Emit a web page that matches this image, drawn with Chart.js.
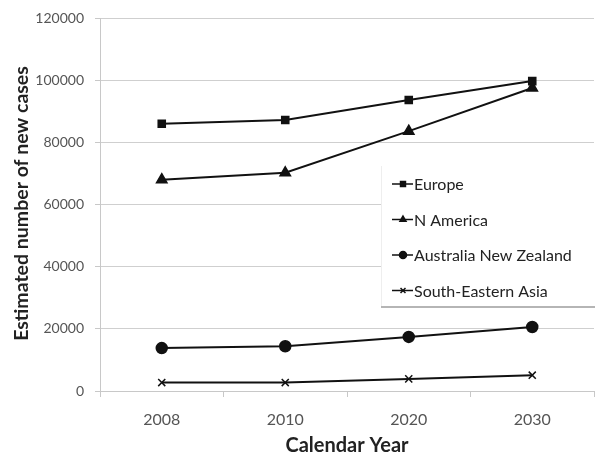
<!DOCTYPE html>
<html>
<head>
<meta charset="utf-8">
<script src="https://cdn.jsdelivr.net/npm/chart.js@4.4.1/dist/chart.umd.min.js"></script>
<style>
  html, body { margin: 0; padding: 0; background: #fff; overflow: hidden; }
  #wrap { width: 595px; height: 454px; position: relative; }
  canvas { display: block; }
</style>
</head>
<body>
<div id="wrap"><canvas id="chart"></canvas></div>
<script>
// ===== data =====
const years = ['2008', '2010', '2020', '2030'];
const europe = [86000, 87200, 93600, 99700];
const nAmerica = [68000, 70200, 83600, 97500];
const ausNz = [13800, 14400, 17400, 20600];
const seAsia = [2700, 2700, 3900, 5100];
const seriesNames = ['Europe', 'N America', 'Australia New Zealand', 'South-Eastern Asia'];
const pointStyles = ['rect', 'triangle', 'circle', 'crossRot'];
const yTicks = [0, 20000, 40000, 60000, 80000, 100000, 120000];
const yTitle = 'Estimated number of new cases';

const FONT = 'Lato, "Open Sans", sans-serif';

// y axis title, placed by hand so it sits centred on the plot
const yTitlePlugin = {
    id: 'yTitle',
    afterDraw(chart) {
        const ctx = chart.ctx;
        const area = chart.chartArea;
        ctx.save();
        ctx.translate(22, (area.top + area.bottom) / 2 - 1);
        ctx.rotate(-Math.PI / 2);
        ctx.fillStyle = '#222';
        ctx.font = 'bold 19.5px ' + FONT;
        ctx.textAlign = 'center';
        ctx.textBaseline = 'middle';
        ctx.fillText(yTitle, 0, 0);
        ctx.restore();
    }
};

// legend box drawn on top of the plot (like the original)
const boxLegend = {
    id: 'boxLegend',
    afterDatasetsDraw(chart) {
        const ctx = chart.ctx;
        const x = 381, y = 166, w = 214, h = 141;
        ctx.save();
        ctx.fillStyle = '#fff';
        ctx.fillRect(x, y, w, h);
        ctx.strokeStyle = '#eee';
        ctx.lineWidth = 1;
        ctx.beginPath();
        ctx.moveTo(x + 0.5, y);
        ctx.lineTo(x + 0.5, y + h);
        ctx.stroke();
        ctx.strokeStyle = '#b5b5b5';
        ctx.lineWidth = 2;
        ctx.beginPath();
        ctx.moveTo(x, y + h);
        ctx.lineTo(x + w, y + h);
        ctx.stroke();

        chart.data.datasets.forEach((ds, i) => {
            const cy = 184 + i * 35.5;
            ctx.strokeStyle = '#111';
            ctx.lineWidth = 1.5;
            ctx.beginPath();
            ctx.moveTo(392, cy);
            ctx.lineTo(413, cy);
            ctx.stroke();
            Chart.helpers.drawPoint(ctx, {
                pointStyle: ds.pointStyle, radius: 3.5, rotation: 0, borderWidth: 1.5
            }, 403, cy);
            ctx.fillStyle = '#111';
            ctx.fill();
            ctx.fillStyle = '#222';
            ctx.font = '16px ' + FONT;
            ctx.textBaseline = 'middle';
            ctx.textAlign = 'left';
            ctx.fillText(ds.label, 414, cy + 1);
        });
        ctx.restore();
    }
};

function makeSet(label, data, style, r) {
    return {
        label: label,
        data: data,
        borderColor: '#111',
        backgroundColor: '#111',
        borderWidth: 2,
        pointStyle: style,
        pointRadius: r,
        pointBorderWidth: 1.5,
        pointBorderColor: '#111',
        pointBackgroundColor: '#111',
        tension: 0,
        fill: false,
        clip: false
    };
}

new Chart(document.getElementById('chart'), {
    type: 'line',
    data: {
        labels: years,
        datasets: [
            makeSet(seriesNames[0], europe, pointStyles[0], 5),
            makeSet(seriesNames[1], nAmerica, pointStyles[1], 6),
            makeSet(seriesNames[2], ausNz, pointStyles[2], 5.5),
            makeSet(seriesNames[3], seAsia, pointStyles[3], 5)
        ]
    },
    options: {
        responsive: true,
        maintainAspectRatio: false,
        animation: false,
        layout: { autoPadding: false, padding: { top: 18, right: 1, left: 0, bottom: 0 } },
        plugins: {
            legend: { display: false },
            tooltip: { enabled: false }
        },
        scales: {
            x: {
                offset: true,
                afterFit: s => { s.height = 63; s.paddingRight = 0; s.paddingLeft = 0; },
                grid: {
                    offset: true,
                    drawOnChartArea: false,
                    drawTicks: true,
                    tickLength: 6,
                    color: '#c8c8c8'
                },
                border: { color: '#c8c8c8' },
                ticks: { color: '#555', font: { family: FONT, size: 16 }, padding: 13 },
                title: {
                    display: true,
                    text: 'Calendar Year',
                    color: '#222',
                    font: { family: FONT, size: 20, weight: 'bold' },
                    padding: { top: 0, bottom: -4 }
                }
            },
            y: {
                min: 0,
                max: 120000,
                afterFit: s => { s.width = 100; s.paddingTop = 0; s.paddingBottom = 0; },
                afterBuildTicks: s => { s.ticks = yTicks.map(v => ({ value: v })); },
                grid: {
                    color: '#cfcfcf',
                    borderDash: [2, 2],
                    tickBorderDash: [],
                    tickColor: '#c8c8c8',
                    tickLength: 5
                },
                border: { color: '#c8c8c8' },
                ticks: {
                    color: '#555',
                    font: { family: FONT, size: 14 },
                    padding: 11,
                    callback: v => String(v)
                }
            }
        }
    },
    plugins: [boxLegend, yTitlePlugin]
});
</script>
</body>
</html>
